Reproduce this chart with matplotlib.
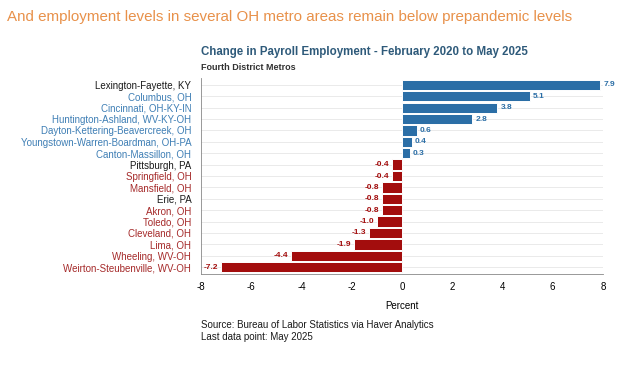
import numpy as np
import matplotlib.pyplot as plt

plt.rcParams['font.family'] = ['Liberation Sans', 'DejaVu Sans']
plt.rcParams['axes.unicode_minus'] = False

metros = ["Lexington-Fayette, KY", "Columbus, OH", "Cincinnati, OH-KY-IN",
          "Huntington-Ashland, WV-KY-OH", "Dayton-Kettering-Beavercreek, OH",
          "Youngstown-Warren-Boardman, OH-PA", "Canton-Massillon, OH",
          "Pittsburgh, PA", "Springfield, OH", "Mansfield, OH", "Erie, PA",
          "Akron, OH", "Toledo, OH", "Cleveland, OH", "Lima, OH",
          "Wheeling, WV-OH", "Weirton-Steubenville, WV-OH"]
change = [7.9, 5.1, 3.8, 2.8, 0.6, 0.4, 0.3, -0.4, -0.4, -0.8, -0.8,
          -0.8, -1.0, -1.3, -1.9, -4.4, -7.2]
# label colour group: 'k' black, 'b' blue, 'r' red
label_group = ['k', 'b', 'b', 'b', 'b', 'b', 'b', 'k', 'r', 'r', 'k',
               'r', 'r', 'r', 'r', 'r', 'r']

BLUE = '#2b6ea6'
RED = '#a30d0d'
group_col = {'k': '#1a1a1a', 'b': '#3f7fb5', 'r': '#a52a2a'}

fig = plt.figure(figsize=(6.39, 3.67), dpi=100)
ax = fig.add_axes([201 / 639, 1 - 274 / 367, 402 / 639, 196 / 367])

y = np.arange(len(metros))
colors = [BLUE if v > 0 else RED for v in change]
ax.barh(y, change, height=0.9, color=colors, edgecolor='white', linewidth=0.7, zorder=3)
for yi in y:
    ax.axhline(yi, color='#e6e6e6', lw=0.6, zorder=1)

for yi, v, c in zip(y, change, colors):
    if v > 0:
        ax.text(v + 0.12, yi, f"{v:.1f}", va='center', ha='left', fontsize=6,
                color=c, fontweight='bold')
    else:
        ax.text(v - 0.12, yi, f"{v:.1f}", va='center', ha='right', fontsize=6,
                color=c, fontweight='bold')

ax.set_xlim(-8, 8)
ax.set_ylim(len(metros) - 0.4, -0.6)
ax.set_xticks(np.arange(-8, 9, 2))
ax.set_yticks(y)
ax.set_yticklabels(metros, fontsize=7)
for lbl, g in zip(ax.get_yticklabels(), label_group):
    lbl.set_color(group_col[g])
ax.tick_params(axis='y', length=0, pad=7)
ax.tick_params(axis='x', length=0, labelsize=7, pad=6)
ax.set_xlabel("Percent", fontsize=7, labelpad=6)
for s in ['top', 'right']:
    ax.spines[s].set_visible(False)
ax.spines['left'].set_color('#888888')
ax.spines['bottom'].set_color('#888888')
ax.spines['left'].set_linewidth(0.6)
ax.spines['bottom'].set_linewidth(0.6)

fig.text(7 / 639, 1 - 17 / 367, "And employment levels in several OH metro areas remain below prepandemic levels",
         fontsize=10.9, color='#e8914a', va='center', ha='left')
fig.text(201 / 639, 1 - 52 / 367, "Change in Payroll Employment - February 2020 to May 2025",
         fontsize=8.3, fontweight='bold', color='#2e5a7a', va='center', ha='left')
fig.text(201 / 639, 1 - 68 / 367, "Fourth District Metros",
         fontsize=6.5, fontweight='bold', color='#333333', va='center', ha='left')
fig.text(201 / 639, 1 - 325 / 367, "Source: Bureau of Labor Statistics via Haver Analytics",
         fontsize=7, color='#1a1a1a', va='center', ha='left')
fig.text(201 / 639, 1 - 337 / 367, "Last data point: May 2025",
         fontsize=7, color='#1a1a1a', va='center', ha='left')

fig.savefig("out.png", dpi=100)
